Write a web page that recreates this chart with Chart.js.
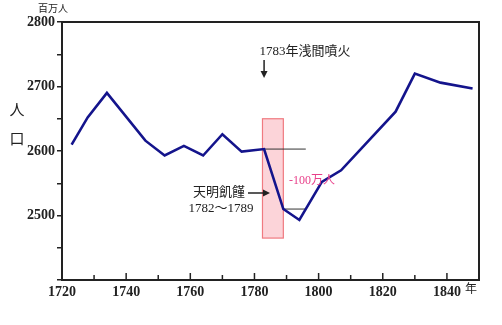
<!DOCTYPE html>
<html>
<head>
  <script src="https://cdn.jsdelivr.net/npm/chart.js"></script>
  <style>
    html, body { margin: 0; padding: 0; background: #fff; }
    #wrap { width: 502px; height: 325px; }
  </style>
</head>
<body>
  <div id="wrap"><canvas id="popChart" width="502" height="325"></canvas></div>
  <script>
// population of Japan (million people)
const years = [1723, 1728, 1734, 1746, 1752, 1758, 1764, 1770, 1776, 1783, 1789, 1794, 1801, 1807, 1824, 1830, 1838, 1848];
const population = [2610, 2652, 2690, 2616, 2593, 2608, 2593, 2626, 2599, 2603, 2510, 2493, 2552, 2570, 2661, 2720, 2706, 2697];

const xLabels = [1720, 1740, 1760, 1780, 1800, 1820, 1840];
const yLabels = [2500, 2600, 2700, 2800];

// famine band and reference lines
const famineYears = [1782.5, 1789];
const famineRange = [2465, 2650];
const dropLines = [[1783, 1796, 2603], [1789, 1796, 2510]];

const serif = '"Liberation Serif", "DejaVu Serif", "Noto Sans CJK JP", serif';
const ink = '#222';

const extras = {
  id: 'extras',
  beforeDatasetsDraw(chart) {
    const ctx = chart.ctx, x = chart.scales.x, y = chart.scales.y;
    // pink band for the famine
    const l = x.getPixelForValue(famineYears[0]), r = x.getPixelForValue(famineYears[1]);
    const t = y.getPixelForValue(famineRange[1]), b = y.getPixelForValue(famineRange[0]);
    ctx.save();
    ctx.fillStyle = 'rgba(252, 205, 210, 0.85)';
    ctx.fillRect(l, t, r - l, b - t);
    ctx.strokeStyle = '#f07a80';
    ctx.lineWidth = 1.2;
    ctx.strokeRect(l, t, r - l, b - t);
    // thin reference lines
    ctx.strokeStyle = '#333';
    ctx.lineWidth = 1;
    dropLines.forEach(d => {
      ctx.beginPath();
      ctx.moveTo(x.getPixelForValue(d[0]), y.getPixelForValue(d[2]));
      ctx.lineTo(x.getPixelForValue(d[1]), y.getPixelForValue(d[2]));
      ctx.stroke();
    });
    ctx.restore();
  },
  afterDraw(chart) {
    const ctx = chart.ctx, x = chart.scales.x, y = chart.scales.y, a = chart.chartArea;
    ctx.save();
    // frame top and right
    ctx.strokeStyle = ink;
    ctx.lineWidth = 2;
    ctx.beginPath();
    ctx.moveTo(a.left, a.top);
    ctx.lineTo(a.right, a.top);
    ctx.lineTo(a.right, a.bottom);
    ctx.stroke();
    // x ticks pointing inward
    ctx.lineWidth = 1.5;
    for (let v = 1730; v < 1850; v += 10) {
      const px = x.getPixelForValue(v);
      ctx.beginPath();
      ctx.moveTo(px, a.bottom);
      ctx.lineTo(px, a.bottom - (v % 20 === 0 ? 7 : 5));
      ctx.stroke();
    }
    ctx.fillStyle = ink;
    ctx.textBaseline = 'middle';
    ctx.textAlign = 'left';
    ctx.font = '12px ' + serif;
    ctx.fillText('年', x.getPixelForValue(1840) + 18, a.bottom + 10);
    // unit and axis title
    ctx.font = '10px ' + serif;
    ctx.fillText('百万人', 38, 9);
    ctx.textAlign = 'center';
    ctx.font = '15px ' + serif;
    ctx.fillText('人', 17, 111);
    ctx.fillText('口', 17, 140);
    // eruption note
    const ex = x.getPixelForValue(1783);
    ctx.font = '13px ' + serif;
    ctx.fillText('1783年浅間噴火', ex + 41, 52);
    ctx.lineWidth = 1.5;
    ctx.beginPath();
    ctx.moveTo(ex, 60);
    ctx.lineTo(ex, 76);
    ctx.stroke();
    ctx.beginPath();
    ctx.moveTo(ex - 3.5, 71);
    ctx.lineTo(ex, 78);
    ctx.lineTo(ex + 3.5, 71);
    ctx.closePath();
    ctx.fill();
    // famine note
    ctx.fillText('天明飢饉', 219, 193);
    ctx.fillText('1782〜1789', 221, 209);
    ctx.beginPath();
    ctx.moveTo(248, 193);
    ctx.lineTo(266, 193);
    ctx.stroke();
    ctx.beginPath();
    ctx.moveTo(263, 189.5);
    ctx.lineTo(270, 193);
    ctx.lineTo(263, 196.5);
    ctx.closePath();
    ctx.fill();
    // loss note
    ctx.fillStyle = '#e8408a';
    ctx.font = '12px ' + serif;
    ctx.textAlign = 'left';
    ctx.fillText('-100万人', 289, 181);
    ctx.restore();
  }
};

new Chart(document.getElementById('popChart').getContext('2d'), {
  type: 'line',
  data: {
    datasets: [{
      data: years.map((yr, i) => ({ x: yr, y: population[i] })),
      borderColor: '#14148c',
      borderWidth: 2.6,
      pointRadius: 0,
      tension: 0,
      fill: false
    }]
  },
  options: {
    responsive: false,
    animation: false,
    layout: { padding: { top: 22, right: 23, left: 0, bottom: 0 } },
    plugins: { legend: { display: false }, tooltip: { enabled: false } },
    scales: {
      x: {
        type: 'linear',
        min: 1720,
        max: 1850,
        afterFit: s => { s.height = 45; },
        afterBuildTicks: s => { s.ticks = xLabels.map(v => ({ value: v })); },
        grid: { display: false, drawTicks: false },
        border: { color: ink, width: 2 },
        ticks: {
          autoSkip: false,
          maxRotation: 0,
          padding: 4,
          color: ink,
          font: { family: serif, size: 14, weight: 'bold' },
          callback: v => String(v)
        }
      },
      y: {
        min: 2400,
        max: 2800,
        afterFit: s => { s.width = 62; },
        grid: { drawOnChartArea: false, drawTicks: true, tickLength: 5, color: ink, lineWidth: 1.5 },
        border: { color: ink, width: 2 },
        ticks: {
          stepSize: 50,
          autoSkip: false,
          padding: 2,
          color: ink,
          font: { family: serif, size: 14, weight: 'bold' },
          callback: v => yLabels.includes(v) ? String(v) : ''
        }
      }
    }
  },
  plugins: [extras]
});
  </script>
</body>
</html>
